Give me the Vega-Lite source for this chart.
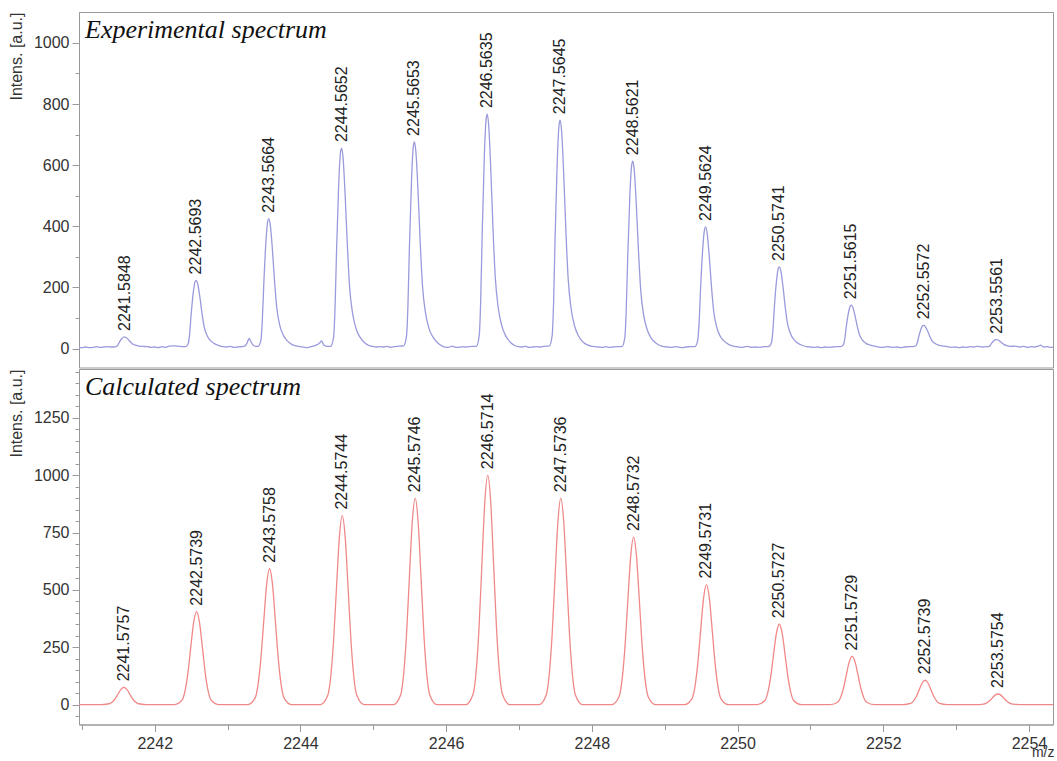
{
  "$schema": "https://vega.github.io/schema/vega-lite/v6.json",
  "padding": {"left": 7, "top": 11, "right": 3, "bottom": 0},
  "background": "white",
  "config": {
    "view": {"stroke": "#999999", "strokeWidth": 1},
    "concat": {"spacing": 0},
    "axis": {"domainColor": "#999999", "tickColor": "#999999", "labelColor": "#333333", "labelFont": "Liberation Sans", "labelFontSize": 16, "titleFont": "Liberation Sans", "titleFontWeight": "normal", "titleColor": "#333333", "grid": false},
    "title": {"font": "Liberation Serif", "fontStyle": "italic", "fontWeight": "normal", "fontSize": 26, "color": "#111111"}
  },
  "datasets": {
    "exp": [
      {"x":2240.96,"y":4},{"x":2241.00,"y":3},{"x":2241.05,"y":5},{"x":2241.10,"y":3},{"x":2241.15,"y":4},{"x":2241.20,"y":6},{"x":2241.25,"y":4},{"x":2241.30,"y":5},{"x":2241.35,"y":6},{"x":2241.40,"y":5},
      {"x":2241.435,"y":5},{"x":2241.475,"y":7},{"x":2241.495,"y":12},{"x":2241.515,"y":21},{"x":2241.545,"y":32},{"x":2241.570,"y":37},{"x":2241.585,"y":38},{"x":2241.605,"y":36},{"x":2241.635,"y":30},{"x":2241.665,"y":22},{"x":2241.695,"y":15},{"x":2241.735,"y":11},{"x":2241.785,"y":8},{"x":2241.835,"y":7},{"x":2241.905,"y":6},
      {"x":2241.95,"y":4},{"x":2242.00,"y":5},{"x":2242.05,"y":3},{"x":2242.10,"y":6},{"x":2242.15,"y":4},{"x":2242.20,"y":8},{"x":2242.25,"y":9},{"x":2242.30,"y":8},{"x":2242.35,"y":7},{"x":2242.39,"y":6},
      {"x":2242.419,"y":6},{"x":2242.459,"y":16},{"x":2242.479,"y":49},{"x":2242.499,"y":110},{"x":2242.529,"y":184},{"x":2242.554,"y":219},{"x":2242.569,"y":223},{"x":2242.589,"y":212},{"x":2242.619,"y":169},{"x":2242.649,"y":114},{"x":2242.679,"y":70},{"x":2242.719,"y":42},{"x":2242.769,"y":25},{"x":2242.819,"y":16},{"x":2242.889,"y":9},
      {"x":2242.94,"y":6},{"x":2242.99,"y":5},{"x":2243.04,"y":7},{"x":2243.09,"y":4},{"x":2243.14,"y":5},{"x":2243.19,"y":6},{"x":2243.24,"y":9},{"x":2243.27,"y":20},{"x":2243.295,"y":33},{"x":2243.32,"y":22},{"x":2243.36,"y":9},{"x":2243.39,"y":7},
      {"x":2243.416,"y":7},{"x":2243.456,"y":26},{"x":2243.476,"y":89},{"x":2243.496,"y":207},{"x":2243.526,"y":349},{"x":2243.551,"y":417},{"x":2243.566,"y":425},{"x":2243.586,"y":404},{"x":2243.616,"y":320},{"x":2243.646,"y":215},{"x":2243.676,"y":131},{"x":2243.716,"y":76},{"x":2243.766,"y":43},{"x":2243.816,"y":26},{"x":2243.886,"y":13},
      {"x":2243.94,"y":9},{"x":2243.99,"y":6},{"x":2244.04,"y":5},{"x":2244.09,"y":3},{"x":2244.14,"y":6},{"x":2244.19,"y":9},{"x":2244.24,"y":14},{"x":2244.27,"y":20},{"x":2244.29,"y":25},{"x":2244.32,"y":12},{"x":2244.37,"y":7},
      {"x":2244.415,"y":7},{"x":2244.455,"y":38},{"x":2244.475,"y":135},{"x":2244.495,"y":317},{"x":2244.525,"y":539},{"x":2244.550,"y":643},{"x":2244.565,"y":656},{"x":2244.585,"y":623},{"x":2244.615,"y":493},{"x":2244.645,"y":331},{"x":2244.675,"y":200},{"x":2244.715,"y":116},{"x":2244.765,"y":64},{"x":2244.815,"y":38},{"x":2244.885,"y":18},
      {"x":2244.94,"y":10},{"x":2244.99,"y":7},{"x":2245.04,"y":5},{"x":2245.09,"y":6},{"x":2245.14,"y":5},{"x":2245.19,"y":7},{"x":2245.24,"y":4},{"x":2245.29,"y":6},{"x":2245.36,"y":8},
      {"x":2245.415,"y":9},{"x":2245.455,"y":39},{"x":2245.475,"y":139},{"x":2245.495,"y":327},{"x":2245.525,"y":555},{"x":2245.550,"y":663},{"x":2245.565,"y":676},{"x":2245.585,"y":642},{"x":2245.615,"y":508},{"x":2245.645,"y":341},{"x":2245.675,"y":206},{"x":2245.715,"y":119},{"x":2245.765,"y":65},{"x":2245.815,"y":39},{"x":2245.885,"y":18},
      {"x":2245.94,"y":9},{"x":2245.99,"y":5},{"x":2246.03,"y":4},{"x":2246.08,"y":8},{"x":2246.12,"y":5},{"x":2246.17,"y":4},{"x":2246.22,"y":6},{"x":2246.27,"y":5},{"x":2246.36,"y":7},
      {"x":2246.414,"y":7},{"x":2246.454,"y":43},{"x":2246.474,"y":157},{"x":2246.494,"y":371},{"x":2246.524,"y":630},{"x":2246.549,"y":752},{"x":2246.564,"y":767},{"x":2246.584,"y":729},{"x":2246.614,"y":577},{"x":2246.644,"y":386},{"x":2246.674,"y":234},{"x":2246.714,"y":135},{"x":2246.764,"y":74},{"x":2246.814,"y":43},{"x":2246.884,"y":20},
      {"x":2246.94,"y":10},{"x":2246.99,"y":6},{"x":2247.04,"y":5},{"x":2247.09,"y":7},{"x":2247.14,"y":4},{"x":2247.19,"y":5},{"x":2247.24,"y":6},{"x":2247.29,"y":5},{"x":2247.36,"y":8},
      {"x":2247.415,"y":8},{"x":2247.455,"y":42},{"x":2247.475,"y":153},{"x":2247.495,"y":361},{"x":2247.525,"y":613},{"x":2247.550,"y":732},{"x":2247.565,"y":747},{"x":2247.585,"y":710},{"x":2247.615,"y":562},{"x":2247.645,"y":376},{"x":2247.675,"y":228},{"x":2247.715,"y":131},{"x":2247.765,"y":72},{"x":2247.815,"y":42},{"x":2247.885,"y":20},
      {"x":2247.94,"y":12},{"x":2247.99,"y":8},{"x":2248.04,"y":6},{"x":2248.09,"y":5},{"x":2248.14,"y":4},{"x":2248.19,"y":6},{"x":2248.24,"y":4},{"x":2248.29,"y":5},{"x":2248.36,"y":6},
      {"x":2248.412,"y":6},{"x":2248.452,"y":35},{"x":2248.472,"y":127},{"x":2248.492,"y":297},{"x":2248.522,"y":504},{"x":2248.547,"y":601},{"x":2248.562,"y":613},{"x":2248.582,"y":583},{"x":2248.612,"y":461},{"x":2248.642,"y":309},{"x":2248.672,"y":187},{"x":2248.712,"y":108},{"x":2248.762,"y":60},{"x":2248.812,"y":35},{"x":2248.882,"y":17},
      {"x":2248.94,"y":10},{"x":2248.99,"y":6},{"x":2249.04,"y":5},{"x":2249.09,"y":4},{"x":2249.14,"y":6},{"x":2249.19,"y":5},{"x":2249.24,"y":3},{"x":2249.29,"y":5},{"x":2249.36,"y":6},
      {"x":2249.412,"y":6},{"x":2249.452,"y":25},{"x":2249.472,"y":84},{"x":2249.492,"y":194},{"x":2249.522,"y":327},{"x":2249.547,"y":390},{"x":2249.562,"y":398},{"x":2249.582,"y":378},{"x":2249.612,"y":300},{"x":2249.642,"y":202},{"x":2249.672,"y":123},{"x":2249.712,"y":72},{"x":2249.762,"y":40},{"x":2249.812,"y":25},{"x":2249.882,"y":13},
      {"x":2249.94,"y":8},{"x":2249.99,"y":6},{"x":2250.04,"y":4},{"x":2250.09,"y":5},{"x":2250.14,"y":7},{"x":2250.19,"y":4},{"x":2250.24,"y":5},{"x":2250.29,"y":4},{"x":2250.37,"y":6},
      {"x":2250.424,"y":6},{"x":2250.464,"y":18},{"x":2250.484,"y":57},{"x":2250.504,"y":131},{"x":2250.534,"y":220},{"x":2250.559,"y":262},{"x":2250.574,"y":267},{"x":2250.594,"y":254},{"x":2250.624,"y":202},{"x":2250.654,"y":136},{"x":2250.684,"y":84},{"x":2250.724,"y":50},{"x":2250.774,"y":29},{"x":2250.824,"y":18},{"x":2250.894,"y":10},
      {"x":2250.95,"y":6},{"x":2251.00,"y":5},{"x":2251.05,"y":4},{"x":2251.10,"y":5},{"x":2251.15,"y":3},{"x":2251.20,"y":5},{"x":2251.25,"y":4},{"x":2251.30,"y":5},{"x":2251.36,"y":6},
      {"x":2251.412,"y":6},{"x":2251.452,"y":12},{"x":2251.472,"y":32},{"x":2251.492,"y":71},{"x":2251.522,"y":117},{"x":2251.547,"y":139},{"x":2251.562,"y":142},{"x":2251.582,"y":135},{"x":2251.612,"y":108},{"x":2251.642,"y":74},{"x":2251.672,"y":46},{"x":2251.712,"y":28},{"x":2251.762,"y":17},{"x":2251.812,"y":12},{"x":2251.882,"y":8},
      {"x":2251.94,"y":5},{"x":2251.99,"y":4},{"x":2252.04,"y":6},{"x":2252.09,"y":5},{"x":2252.14,"y":4},{"x":2252.19,"y":5},{"x":2252.24,"y":3},{"x":2252.29,"y":5},{"x":2252.36,"y":6},
      {"x":2252.407,"y":6},{"x":2252.447,"y":9},{"x":2252.467,"y":19},{"x":2252.487,"y":39},{"x":2252.517,"y":63},{"x":2252.542,"y":75},{"x":2252.557,"y":76},{"x":2252.577,"y":72},{"x":2252.607,"y":58},{"x":2252.637,"y":41},{"x":2252.667,"y":26},{"x":2252.707,"y":17},{"x":2252.757,"y":11},{"x":2252.807,"y":9},{"x":2252.877,"y":6},
      {"x":2252.94,"y":4},{"x":2252.99,"y":5},{"x":2253.04,"y":3},{"x":2253.09,"y":5},{"x":2253.14,"y":4},{"x":2253.19,"y":6},{"x":2253.24,"y":5},{"x":2253.29,"y":7},{"x":2253.36,"y":5},
      {"x":2253.406,"y":6},{"x":2253.446,"y":6},{"x":2253.466,"y":10},{"x":2253.486,"y":17},{"x":2253.516,"y":25},{"x":2253.541,"y":29},{"x":2253.556,"y":29},{"x":2253.576,"y":28},{"x":2253.606,"y":23},{"x":2253.636,"y":17},{"x":2253.666,"y":12},{"x":2253.706,"y":9},{"x":2253.756,"y":7},{"x":2253.806,"y":8},{"x":2253.876,"y":5},
      {"x":2253.93,"y":7},{"x":2253.98,"y":4},{"x":2254.03,"y":6},{"x":2254.08,"y":5},{"x":2254.13,"y":8},{"x":2254.16,"y":11},{"x":2254.20,"y":5},{"x":2254.25,"y":6},{"x":2254.30,"y":4},{"x":2254.33,"y":5}
    ],
    "calc": [
      {"x":2240.96,"y":0},
      {"x":2241.276,"y":0},{"x":2241.376,"y":3.5},{"x":2241.416,"y":10.7},{"x":2241.456,"y":25},{"x":2241.496,"y":46},{"x":2241.536,"y":66},{"x":2241.576,"y":75},{"x":2241.616,"y":66},{"x":2241.656,"y":46},{"x":2241.696,"y":25},{"x":2241.736,"y":10.7},{"x":2241.776,"y":3.5},{"x":2241.876,"y":0},
      {"x":2242.274,"y":0},{"x":2242.374,"y":19},{"x":2242.414,"y":57.5},{"x":2242.454,"y":135},{"x":2242.494,"y":249},{"x":2242.534,"y":358},{"x":2242.574,"y":405},{"x":2242.614,"y":358},{"x":2242.654,"y":249},{"x":2242.694,"y":135},{"x":2242.734,"y":57.5},{"x":2242.774,"y":19},{"x":2242.874,"y":0},
      {"x":2243.276,"y":0},{"x":2243.376,"y":28},{"x":2243.416,"y":84},{"x":2243.456,"y":198},{"x":2243.496,"y":363},{"x":2243.536,"y":524},{"x":2243.576,"y":592},{"x":2243.616,"y":524},{"x":2243.656,"y":363},{"x":2243.696,"y":198},{"x":2243.736,"y":84},{"x":2243.776,"y":28},{"x":2243.876,"y":0},
      {"x":2244.274,"y":0},{"x":2244.374,"y":39},{"x":2244.414,"y":117},{"x":2244.454,"y":275},{"x":2244.494,"y":506},{"x":2244.534,"y":729},{"x":2244.574,"y":824},{"x":2244.614,"y":729},{"x":2244.654,"y":506},{"x":2244.694,"y":275},{"x":2244.734,"y":117},{"x":2244.774,"y":39},{"x":2244.874,"y":0},
      {"x":2245.275,"y":0},{"x":2245.375,"y":42},{"x":2245.415,"y":128},{"x":2245.455,"y":301},{"x":2245.495,"y":553},{"x":2245.535,"y":797},{"x":2245.575,"y":900},{"x":2245.615,"y":797},{"x":2245.655,"y":553},{"x":2245.695,"y":301},{"x":2245.735,"y":128},{"x":2245.775,"y":42},{"x":2245.875,"y":0},
      {"x":2246.271,"y":0},{"x":2246.371,"y":47},{"x":2246.411,"y":142},{"x":2246.451,"y":334},{"x":2246.491,"y":614},{"x":2246.531,"y":885},{"x":2246.571,"y":1000},{"x":2246.611,"y":885},{"x":2246.651,"y":614},{"x":2246.691,"y":334},{"x":2246.731,"y":142},{"x":2246.771,"y":47},{"x":2246.871,"y":0},
      {"x":2247.274,"y":0},{"x":2247.374,"y":42},{"x":2247.414,"y":128},{"x":2247.454,"y":301},{"x":2247.494,"y":553},{"x":2247.534,"y":797},{"x":2247.574,"y":900},{"x":2247.614,"y":797},{"x":2247.654,"y":553},{"x":2247.694,"y":301},{"x":2247.734,"y":128},{"x":2247.774,"y":42},{"x":2247.874,"y":0},
      {"x":2248.273,"y":0},{"x":2248.373,"y":34},{"x":2248.413,"y":104},{"x":2248.453,"y":244},{"x":2248.493,"y":448},{"x":2248.533,"y":646},{"x":2248.573,"y":730},{"x":2248.613,"y":646},{"x":2248.653,"y":448},{"x":2248.693,"y":244},{"x":2248.733,"y":104},{"x":2248.773,"y":34},{"x":2248.873,"y":0},
      {"x":2249.273,"y":0},{"x":2249.373,"y":25},{"x":2249.413,"y":74},{"x":2249.453,"y":175},{"x":2249.493,"y":321},{"x":2249.533,"y":463},{"x":2249.573,"y":523},{"x":2249.613,"y":463},{"x":2249.653,"y":321},{"x":2249.693,"y":175},{"x":2249.733,"y":74},{"x":2249.773,"y":25},{"x":2249.873,"y":0},
      {"x":2250.273,"y":0},{"x":2250.373,"y":16.5},{"x":2250.413,"y":50},{"x":2250.453,"y":117},{"x":2250.493,"y":215},{"x":2250.533,"y":310},{"x":2250.573,"y":350},{"x":2250.613,"y":310},{"x":2250.653,"y":215},{"x":2250.693,"y":117},{"x":2250.733,"y":50},{"x":2250.773,"y":16.5},{"x":2250.873,"y":0},
      {"x":2251.273,"y":0},{"x":2251.373,"y":10},{"x":2251.413,"y":30},{"x":2251.453,"y":70},{"x":2251.493,"y":129},{"x":2251.533,"y":186},{"x":2251.573,"y":210},{"x":2251.613,"y":186},{"x":2251.653,"y":129},{"x":2251.693,"y":70},{"x":2251.733,"y":30},{"x":2251.773,"y":10},{"x":2251.873,"y":0},
      {"x":2252.274,"y":0},{"x":2252.374,"y":5},{"x":2252.414,"y":15},{"x":2252.454,"y":35},{"x":2252.494,"y":65},{"x":2252.534,"y":94},{"x":2252.574,"y":106},{"x":2252.614,"y":94},{"x":2252.654,"y":65},{"x":2252.694,"y":35},{"x":2252.734,"y":15},{"x":2252.774,"y":5},{"x":2252.874,"y":0},
      {"x":2253.275,"y":0},{"x":2253.375,"y":2.2},{"x":2253.415,"y":6.5},{"x":2253.455,"y":15.4},{"x":2253.495,"y":28},{"x":2253.535,"y":41},{"x":2253.575,"y":46},{"x":2253.615,"y":41},{"x":2253.655,"y":28},{"x":2253.695,"y":15.4},{"x":2253.735,"y":6.5},{"x":2253.775,"y":2.2},{"x":2253.875,"y":0},
      {"x":2254.33,"y":0}
    ],
    "labExp": [
      {"x":2241.5848,"y":38,"label":"2241.5848"},
      {"x":2242.5693,"y":223,"label":"2242.5693"},
      {"x":2243.5664,"y":425,"label":"2243.5664"},
      {"x":2244.5652,"y":656,"label":"2244.5652"},
      {"x":2245.5653,"y":676,"label":"2245.5653"},
      {"x":2246.5635,"y":767,"label":"2246.5635"},
      {"x":2247.5645,"y":747,"label":"2247.5645"},
      {"x":2248.5621,"y":613,"label":"2248.5621"},
      {"x":2249.5624,"y":398,"label":"2249.5624"},
      {"x":2250.5741,"y":267,"label":"2250.5741"},
      {"x":2251.5615,"y":142,"label":"2251.5615"},
      {"x":2252.5572,"y":76,"label":"2252.5572"},
      {"x":2253.5561,"y":29,"label":"2253.5561"}
    ],
    "labCalc": [
      {"x":2241.5757,"y":75,"label":"2241.5757"},
      {"x":2242.5739,"y":405,"label":"2242.5739"},
      {"x":2243.5758,"y":592,"label":"2243.5758"},
      {"x":2244.5744,"y":824,"label":"2244.5744"},
      {"x":2245.5746,"y":900,"label":"2245.5746"},
      {"x":2246.5714,"y":1000,"label":"2246.5714"},
      {"x":2247.5736,"y":900,"label":"2247.5736"},
      {"x":2248.5732,"y":730,"label":"2248.5732"},
      {"x":2249.5731,"y":523,"label":"2249.5731"},
      {"x":2250.5727,"y":350,"label":"2250.5727"},
      {"x":2251.5729,"y":210,"label":"2251.5729"},
      {"x":2252.5739,"y":106,"label":"2252.5739"},
      {"x":2253.5754,"y":46,"label":"2253.5754"}
    ]
  },
  "vconcat": [
    {
      "width": 974,
      "height": 355.5,
      "title": {"text": "Experimental spectrum", "anchor": "start", "frame": "group", "offset": -31, "dx": 6},
      "resolve": {"axis": {"y": "independent"}},
      "layer": [
        {
          "data": {"name": "exp"},
          "mark": {"type": "line", "color": "#9a9adc", "strokeWidth": 1.3, "interpolate": "monotone"},
          "encoding": {
            "x": {"field": "x", "type": "quantitative", "scale": {"domain": [2240.96, 2254.33], "nice": false, "zero": false}, "axis": null},
            "y": {"field": "y", "type": "quantitative", "scale": {"domain": [-62, 1101], "nice": false, "zero": false},
                  "axis": {"orient": "left", "values": [0, 200, 400, 600, 800, 1000], "format": "d", "tickSize": 7, "labelPadding": 3, "title": "Intens. [a.u.]", "titleFontSize": 16, "titleAngle": 270, "titleAlign": "right", "titleBaseline": "middle", "titleX": -63, "titleY": 0}}
          }
        },
        {
          "data": {"name": "labExp"},
          "mark": {"type": "text", "angle": 270, "align": "left", "baseline": "middle", "dx": 6, "font": "Liberation Sans", "fontSize": 16, "color": "#222222"},
          "encoding": {
            "x": {"field": "x", "type": "quantitative", "scale": {"domain": [2240.96, 2254.33], "nice": false, "zero": false}, "axis": null},
            "y": {"field": "y", "type": "quantitative", "scale": {"domain": [-62, 1101], "nice": false, "zero": false},
                  "axis": {"orient": "left", "values": [100, 300, 500, 700, 900], "tickSize": 4, "labels": false, "domain": false, "title": null}},
            "text": {"field": "label", "type": "nominal"}
          }
        }
      ]
    },
    {
      "width": 974,
      "height": 355.5,
      "title": {"text": "Calculated spectrum", "anchor": "start", "frame": "group", "offset": -31, "dx": 6},
      "resolve": {"axis": {"y": "independent", "x": "independent"}},
      "layer": [
        {
          "data": {"name": "calc"},
          "mark": {"type": "line", "color": "#f08888", "strokeWidth": 1.3, "interpolate": "monotone"},
          "encoding": {
            "x": {"field": "x", "type": "quantitative", "scale": {"domain": [2240.96, 2254.33], "nice": false, "zero": false},
                  "axis": {"orient": "bottom", "values": [2242, 2244, 2246, 2248, 2250, 2252, 2254], "format": "d", "tickSize": 7, "labelPadding": 4, "title": "m/z", "titleFontSize": 14, "titleAlign": "right", "titleBaseline": "alphabetic", "titleX": 975, "titleY": 32}},
            "y": {"field": "y", "type": "quantitative", "scale": {"domain": [-87, 1463], "nice": false, "zero": false},
                  "axis": {"orient": "left", "values": [0, 250, 500, 750, 1000, 1250], "format": "d", "tickSize": 7, "labelPadding": 3, "title": "Intens. [a.u.]", "titleFontSize": 16, "titleAngle": 270, "titleAlign": "right", "titleBaseline": "middle", "titleX": -63, "titleY": 0}}
          }
        },
        {
          "data": {"name": "labCalc"},
          "mark": {"type": "text", "angle": 270, "align": "left", "baseline": "middle", "dx": 6, "font": "Liberation Sans", "fontSize": 16, "color": "#222222"},
          "encoding": {
            "x": {"field": "x", "type": "quantitative", "scale": {"domain": [2240.96, 2254.33], "nice": false, "zero": false},
                  "axis": {"orient": "bottom", "values": [2241, 2243, 2245, 2247, 2249, 2251, 2253], "tickSize": 5, "labels": false, "domain": false, "title": null}},
            "y": {"field": "y", "type": "quantitative", "scale": {"domain": [-87, 1463], "nice": false, "zero": false},
                  "axis": {"orient": "left", "values": [-50, 50, 100, 150, 200, 300, 350, 400, 450, 550, 600, 650, 700, 800, 850, 900, 950, 1050, 1100, 1150, 1200, 1300, 1350, 1400, 1450], "tickSize": 4, "labels": false, "domain": false, "title": null}},
            "text": {"field": "label", "type": "nominal"}
          }
        }
      ]
    }
  ]
}
